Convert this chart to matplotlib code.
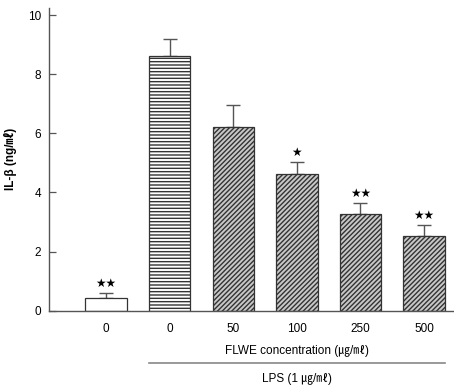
import matplotlib
matplotlib.use("Agg")
import matplotlib.pyplot as plt
from matplotlib.lines import Line2D

plt.rcParams['font.family'] = ['Liberation Sans', 'Noto Sans CJK KR', 'DejaVu Sans']
plt.rcParams['hatch.linewidth'] = 1.0

# IL-beta production per group
tick_labels = ["0", "0", "50", "100", "250", "500"]
il_beta = [0.42, 8.6, 6.22, 4.62, 3.28, 2.53]
sem = [0.18, 0.6, 0.75, 0.42, 0.37, 0.37]
signif = ["**", "", "", "*", "**", "**"]
hatches = ["", "-----", "///////", "///////", "///////", "///////"]
faces = ["white", "white", "#c8c8c8", "#c8c8c8", "#c8c8c8", "#c8c8c8"]

fig = plt.figure(figsize=(4.54, 3.89), dpi=100)
ax = fig.add_axes([48.5 / 454, 0.2013, 405.5 / 454, 0.779])

x = list(range(len(il_beta)))
bars = ax.bar(x, il_beta, width=0.65, color=faces, edgecolor="#333333",
              linewidth=0.9, zorder=2)
for b, h in zip(bars, hatches):
    b.set_hatch(h)
ax.errorbar(x, il_beta, yerr=[[0] * len(sem), sem], fmt="none",
            ecolor="#555555", elinewidth=1.0, capsize=5, capthick=1.0, zorder=1)

for xi, v, e, s in zip(x, il_beta, sem, signif):
    if s:
        ax.text(xi, v + e + 0.1, "★" * len(s), ha="center",
                va="bottom", fontsize=8.5, family=['DejaVu Sans'])

ax.set_xlim(-0.904, 5.47)
ax.set_ylim(0, 10.25)
ax.set_yticks([0, 2, 4, 6, 8, 10])
ax.set_yticklabels(["0", "2", "4", "6", "8", "10"])
ax.tick_params(axis="y", direction="in", length=5, width=0.9, color="#555555",
               labelsize=8.5, pad=5.5)
ax.tick_params(axis="x", length=0, labelsize=8.5, pad=9)
ax.set_xticks(x)
ax.set_xticklabels(tick_labels)

for side in ("top", "right"):
    ax.spines[side].set_visible(False)
for side in ("left", "bottom"):
    ax.spines[side].set_color("#555555")
    ax.spines[side].set_linewidth(1.0)

ax.set_ylabel("IL-β (ng/㎖)", fontsize=8.5, fontweight="bold")
ax.yaxis.set_label_coords(-0.078, 0.5)

# group annotations below the axis
ax.text(3.0, -1.35, "FLWE concentration (㎍/㎖)", ha="center", va="center",
        fontsize=8.5, clip_on=False)
ax.add_line(Line2D([0.67, 5.33], [-1.78, -1.78], color="#888888", lw=1.2,
                   clip_on=False))
ax.text(3.0, -2.3, "LPS (1 ㎍/㎖)", ha="center", va="center",
        fontsize=8.5, clip_on=False)

fig.savefig("out.png", dpi=100)
